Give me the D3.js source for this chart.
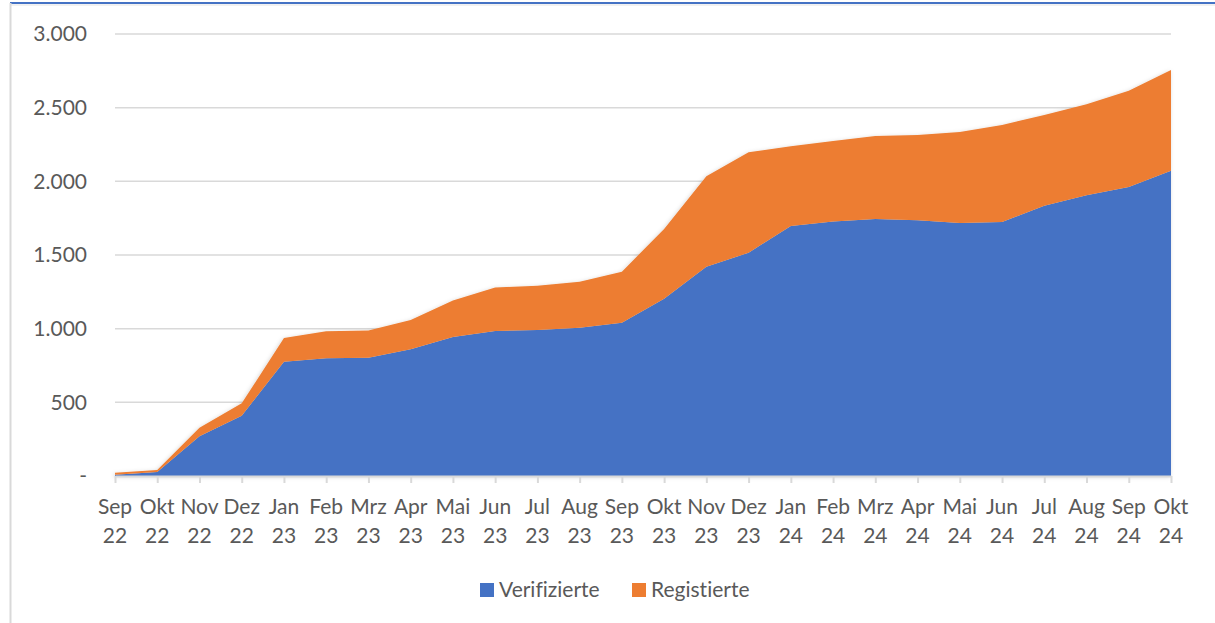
<!DOCTYPE html>
<html>
<head>
<meta charset="utf-8">
<script src="https://cdn.jsdelivr.net/npm/d3@7"></script>
<style>
  body { margin: 0; background: #fff; }
  svg { display: block; font-family: Lato, "Open Sans", sans-serif; font-variant-ligatures: none; }
</style>
</head>
<body>
<div id="chart"></div>
<script>
// months on the x axis (two lines each)
var months = ["Sep 22", "Okt 22", "Nov 22", "Dez 22", "Jan 23", "Feb 23", "Mrz 23", "Apr 23", "Mai 23",
  "Jun 23", "Jul 23", "Aug 23", "Sep 23", "Okt 23", "Nov 23", "Dez 23", "Jan 24", "Feb 24", "Mrz 24",
  "Apr 24", "Mai 24", "Jun 24", "Jul 24", "Aug 24", "Sep 24", "Okt 24"];

// stacked series, bottom first
var verifizierte = [8, 27, 270, 409, 775, 799, 803, 860, 944, 984, 991, 1007, 1040, 1203, 1421, 1516,
  1697, 1727, 1745, 1736, 1717, 1724, 1835, 1905, 1962, 2071];
var registrierte = [14, 14, 57, 84, 161, 183, 184, 199, 248, 295, 301, 312, 347, 474, 613, 682,
  541, 547, 563, 579, 618, 659, 616, 618, 652, 685];

var seriesNames = ["Verifizierte", "Registierte"];
var yTicks = [0, 500, 1000, 1500, 2000, 2500, 3000];

var W = 1215, H = 623;
var plot = {left: 115, right: 1171, top: 34, bottom: 476};
var fontSize = 21;

var svg = d3.select("#chart").append("svg")
  .attr("width", W)
  .attr("height", H);

// frame of the screenshot
svg.append("line").attr("x1", 10).attr("x2", W).attr("y1", 5).attr("y2", 5)
  .attr("stroke", "#e3e3e3").attr("stroke-width", 1);
svg.append("line").attr("x1", 10).attr("x2", W).attr("y1", 3).attr("y2", 3)
  .attr("stroke", "#4472c4").attr("stroke-width", 2);
svg.append("line").attr("x1", 10.5).attr("x2", 10.5).attr("y1", 3).attr("y2", H)
  .attr("stroke", "#d9d9d9").attr("stroke-width", 2);

var defs = svg.append("defs");
defs.append("filter").attr("id", "shadow")
  .attr("x", "-5%").attr("y", "-5%").attr("width", "110%").attr("height", "110%")
  .append("feDropShadow")
    .attr("dx", -1).attr("dy", 1).attr("stdDeviation", 2)
    .attr("flood-color", "#000").attr("flood-opacity", 0.18);

var x = d3.scalePoint()
  .domain(months)
  .range([plot.left, plot.right]);

var y = d3.scaleLinear()
  .domain([0, 3000])
  .range([plot.bottom, plot.top]);

// gridlines
svg.append("g")
  .selectAll("line")
  .data(yTicks.filter(function(d) { return d > 0; }))
  .enter().append("line")
    .attr("x1", plot.left)
    .attr("x2", plot.right)
    .attr("y1", function(d) { return y(d); })
    .attr("y2", function(d) { return y(d); })
    .attr("stroke", "#d9d9d9")
    .attr("stroke-width", 1.5);

// y labels
var fmt = function(d) { return d === 0 ? "-" : d3.format(",")(d).replace(/,/g, "."); };
svg.append("g")
  .selectAll("text")
  .data(yTicks)
  .enter().append("text")
    .attr("x", 87)
    .attr("y", function(d) { return y(d); })
    .attr("dy", "0.35em")
    .attr("text-anchor", "end")
    .attr("font-size", fontSize)
    .attr("fill", "#595959")
    .text(fmt);

// stack the data
var table = months.map(function(m, i) {
  return {month: m, "Verifizierte": verifizierte[i], "Registierte": registrierte[i]};
});
var stackedData = d3.stack().keys(seriesNames)(table);

var color = d3.scaleOrdinal()
  .domain(seriesNames)
  .range(["#4472c4", "#ed7d31"]);

var area = d3.area()
  .x(function(d) { return x(d.data.month); })
  .y0(function(d) { return y(d[0]); })
  .y1(function(d) { return y(d[1]); });

svg.append("g")
  .attr("filter", "url(#shadow)")
  .selectAll("path")
  .data(stackedData)
  .enter().append("path")
    .attr("fill", function(d) { return color(d.key); })
    .attr("d", area);

// x axis
var xAxis = svg.append("g")
  .attr("transform", "translate(0," + plot.bottom + ")")
  .call(d3.axisBottom(x).tickSize(7).tickSizeOuter(0).tickFormat(""));
xAxis.select(".domain").attr("stroke", "#d9d9d9").attr("stroke-width", 2);
xAxis.selectAll(".tick line").attr("stroke", "#d9d9d9").attr("stroke-width", 2);

var xLabels = svg.append("g")
  .selectAll("text")
  .data(months)
  .enter().append("text")
    .attr("x", function(d) { return x(d); })
    .attr("text-anchor", "middle")
    .attr("font-size", fontSize)
    .attr("fill", "#595959");
xLabels.append("tspan")
  .attr("x", function(d) { return x(d); })
  .attr("y", 514)
  .text(function(d) { return d.split(" ")[0]; });
xLabels.append("tspan")
  .attr("x", function(d) { return x(d); })
  .attr("y", 543)
  .text(function(d) { return d.split(" ")[1]; });

// legend
var legendX = [480, 632];
var legend = svg.append("g")
  .selectAll("g")
  .data(seriesNames)
  .enter().append("g")
    .attr("transform", function(d, i) { return "translate(" + legendX[i] + ",583)"; });
legend.append("rect")
  .attr("width", 14).attr("height", 14)
  .attr("fill", function(d) { return color(d); });
legend.append("text")
  .attr("x", 19)
  .attr("y", 14)
  .attr("font-size", fontSize)
  .attr("fill", "#595959")
  .text(function(d) { return d; });
</script>
</body>
</html>
